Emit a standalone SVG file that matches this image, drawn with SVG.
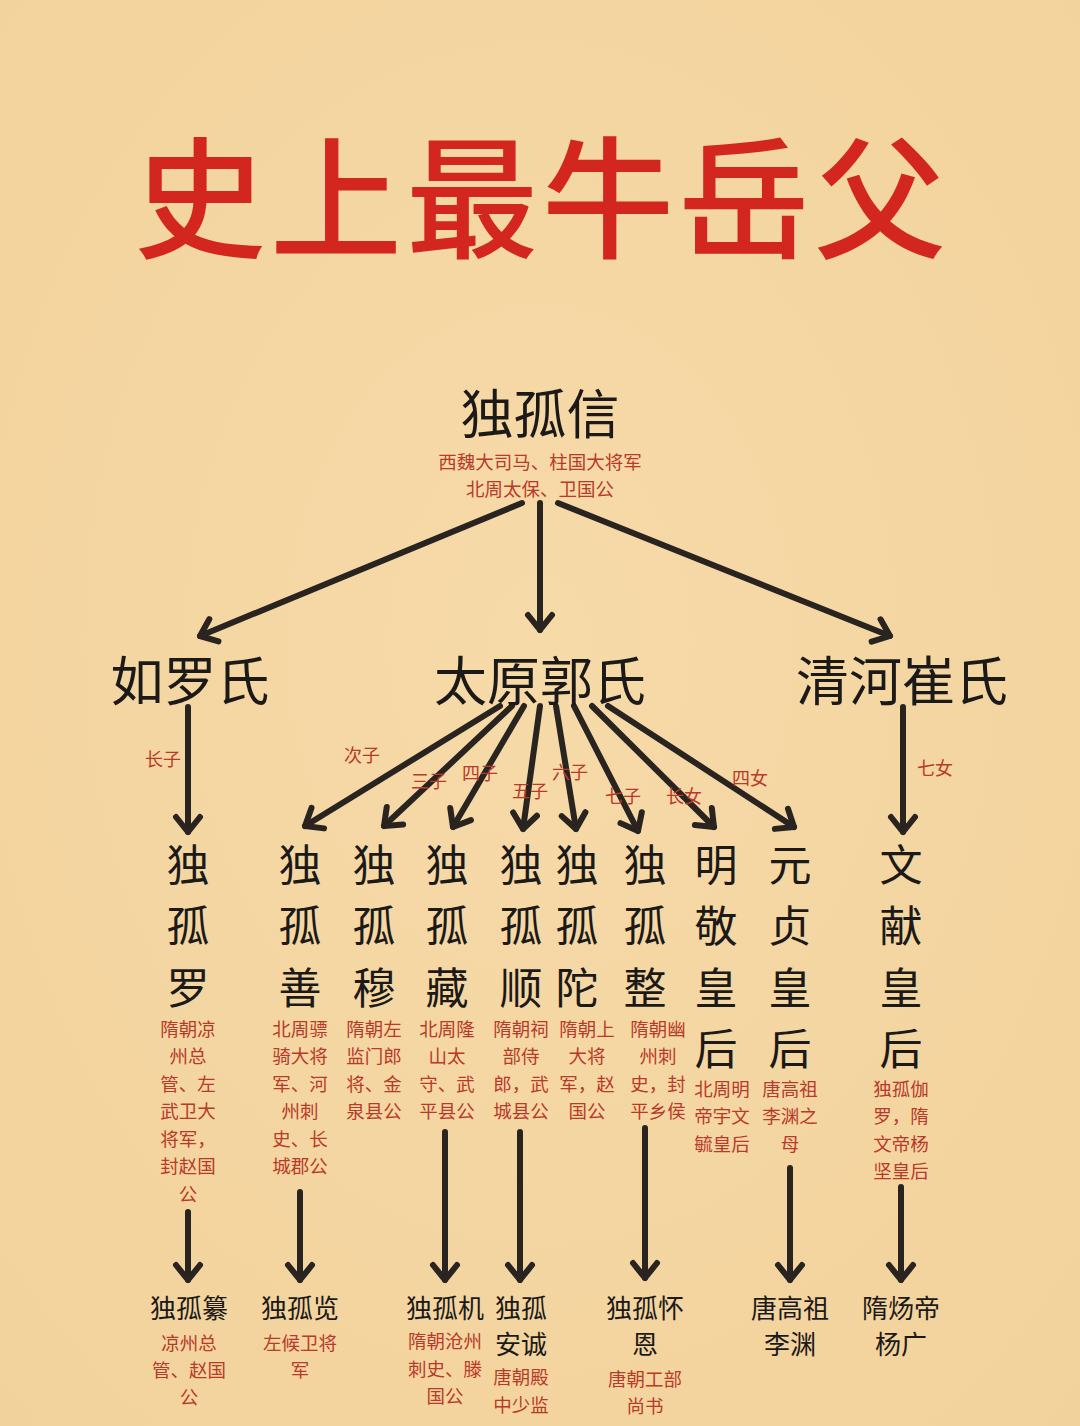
<svg xmlns="http://www.w3.org/2000/svg" width="1080" height="1426" viewBox="0 0 1080 1426">
<defs>
<style>
text{font-family:"Noto Sans CJK SC","Noto Sans",sans-serif;text-anchor:middle;dominant-baseline:central}
.title{font-size:132px;fill:#d3261e;font-weight:500;letter-spacing:4px}
.big{font-size:53px;fill:#1c1a18}
.col{font-size:43px;fill:#1c1a18}
.red{font-size:18.5px;fill:#b83a2a}
.lab{font-size:18px;fill:#b83a2a}
.bot{font-size:26px;fill:#1c1a18}
.ln{stroke:#2a2421;stroke-width:6;fill:none;stroke-linecap:round;marker-end:url(#ah)}
</style>
<marker id="ah" viewBox="-20 -16 24 32" refX="0" refY="0" markerWidth="24" markerHeight="32" markerUnits="userSpaceOnUse" orient="auto">
<path d="M-15,-12 L0,0 L-15,12" fill="none" stroke="#2a2421" stroke-width="6" stroke-linecap="round" stroke-linejoin="round"/>
</marker>
<radialGradient id="bg" cx="50%" cy="45%" r="75%">
<stop offset="0" stop-color="#f6daa8"/>
<stop offset="1" stop-color="#f2d29c"/>
</radialGradient>
</defs>
<rect width="1080" height="1426" fill="url(#bg)"/>
<text class="title" x="542" y="190">史上最牛岳父</text>

<g id="connectors">
<line class="ln" x1="522" y1="503" x2="200" y2="636"/>
<line class="ln" x1="540" y1="503" x2="540" y2="630"/>
<line class="ln" x1="558" y1="503" x2="890" y2="636"/>
<line class="ln" x1="188" y1="707" x2="188" y2="832"/>
<line class="ln" x1="903" y1="707" x2="903" y2="832"/>
<line class="ln" x1="500" y1="706" x2="305" y2="826"/>
<line class="ln" x1="512" y1="706" x2="384" y2="826"/>
<line class="ln" x1="524" y1="706" x2="453" y2="827"/>
<line class="ln" x1="540" y1="706" x2="523" y2="829"/>
<line class="ln" x1="556" y1="706" x2="576" y2="829"/>
<line class="ln" x1="574" y1="706" x2="638" y2="831"/>
<line class="ln" x1="592" y1="706" x2="714" y2="827"/>
<line class="ln" x1="608" y1="706" x2="794" y2="827"/>
<line class="ln" x1="188" y1="1212" x2="188" y2="1280"/>
<line class="ln" x1="300" y1="1192" x2="300" y2="1280"/>
<line class="ln" x1="445" y1="1132" x2="445" y2="1280"/>
<line class="ln" x1="520" y1="1132" x2="520" y2="1280"/>
<line class="ln" x1="645" y1="1128" x2="645" y2="1278"/>
<line class="ln" x1="790" y1="1168" x2="790" y2="1280"/>
<line class="ln" x1="901" y1="1187" x2="901" y2="1280"/>
<text class="lab" x="163" y="758">长子</text>
<text class="lab" x="362" y="754">次子</text>
<text class="lab" x="429" y="780">三子</text>
<text class="lab" x="480" y="772">四子</text>
<text class="lab" x="530" y="790">五子</text>
<text class="lab" x="570" y="771">六子</text>
<text class="lab" x="623" y="795">七子</text>
<text class="lab" x="684" y="795">长女</text>
<text class="lab" x="750" y="777">四女</text>
<text class="lab" x="935" y="767">七女</text>
</g>

<g id="n-duguxin">
<text class="big" x="540" y="411">独孤信</text>
<text class="red" x="540" y="461">西魏大司马、柱国大将军</text>
<text class="red" x="540" y="488">北周太保、卫国公</text>
</g>
<g id="n-ruluo"><text class="big" x="190" y="678">如罗氏</text></g>
<g id="n-guo"><text class="big" x="540" y="678">太原郭氏</text></g>
<g id="n-cui"><text class="big" x="902" y="678">清河崔氏</text></g>

<g id="n-luo">
<text class="col" x="188" y="862">独</text><text class="col" x="188" y="923">孤</text><text class="col" x="188" y="985">罗</text>
<text class="red" x="188" y="1028">隋朝凉</text><text class="red" x="188" y="1055">州总</text><text class="red" x="188" y="1083">管、左</text><text class="red" x="188" y="1110">武卫大</text><text class="red" x="188" y="1138">将军，</text><text class="red" x="188" y="1165">封赵国</text><text class="red" x="188" y="1193">公</text>
</g>
<g id="n-shan">
<text class="col" x="300" y="862">独</text><text class="col" x="300" y="923">孤</text><text class="col" x="300" y="985">善</text>
<text class="red" x="300" y="1028">北周骠</text><text class="red" x="300" y="1055">骑大将</text><text class="red" x="300" y="1083">军、河</text><text class="red" x="300" y="1110">州刺</text><text class="red" x="300" y="1138">史、长</text><text class="red" x="300" y="1165">城郡公</text>
</g>
<g id="n-mu">
<text class="col" x="374" y="862">独</text><text class="col" x="374" y="923">孤</text><text class="col" x="374" y="985">穆</text>
<text class="red" x="374" y="1028">隋朝左</text><text class="red" x="374" y="1055">监门郎</text><text class="red" x="374" y="1083">将、金</text><text class="red" x="374" y="1110">泉县公</text>
</g>
<g id="n-cang">
<text class="col" x="447" y="862">独</text><text class="col" x="447" y="923">孤</text><text class="col" x="447" y="985">藏</text>
<text class="red" x="447" y="1028">北周隆</text><text class="red" x="447" y="1055">山太</text><text class="red" x="447" y="1083">守、武</text><text class="red" x="447" y="1110">平县公</text>
</g>
<g id="n-shun">
<text class="col" x="521" y="862">独</text><text class="col" x="521" y="923">孤</text><text class="col" x="521" y="985">顺</text>
<text class="red" x="521" y="1028">隋朝祠</text><text class="red" x="521" y="1055">部侍</text><text class="red" x="521" y="1083">郎，武</text><text class="red" x="521" y="1110">城县公</text>
</g>
<g id="n-tuo">
<text class="col" x="577" y="862">独</text><text class="col" x="577" y="923">孤</text><text class="col" x="577" y="985">陀</text>
<text class="red" x="587" y="1028">隋朝上</text><text class="red" x="587" y="1055">大将</text><text class="red" x="587" y="1083">军，赵</text><text class="red" x="587" y="1110">国公</text>
</g>
<g id="n-zheng">
<text class="col" x="645" y="862">独</text><text class="col" x="645" y="923">孤</text><text class="col" x="645" y="985">整</text>
<text class="red" x="658" y="1028">隋朝幽</text><text class="red" x="658" y="1055">州刺</text><text class="red" x="658" y="1083">史，封</text><text class="red" x="658" y="1110">平乡侯</text>
</g>
<g id="n-mingjing">
<text class="col" x="716" y="862">明</text><text class="col" x="716" y="923">敬</text><text class="col" x="716" y="985">皇</text><text class="col" x="716" y="1046">后</text>
<text class="red" x="722" y="1088">北周明</text><text class="red" x="722" y="1115">帝宇文</text><text class="red" x="722" y="1143">毓皇后</text>
</g>
<g id="n-yuanzhen">
<text class="col" x="790" y="862">元</text><text class="col" x="790" y="923">贞</text><text class="col" x="790" y="985">皇</text><text class="col" x="790" y="1046">后</text>
<text class="red" x="790" y="1088">唐高祖</text><text class="red" x="790" y="1115">李渊之</text><text class="red" x="790" y="1143">母</text>
</g>
<g id="n-wenxian">
<text class="col" x="901" y="862">文</text><text class="col" x="901" y="923">献</text><text class="col" x="901" y="985">皇</text><text class="col" x="901" y="1046">后</text>
<text class="red" x="901" y="1088">独孤伽</text><text class="red" x="901" y="1115">罗，隋</text><text class="red" x="901" y="1143">文帝杨</text><text class="red" x="901" y="1170">坚皇后</text>
</g>

<g id="n-zuan">
<text class="bot" x="189" y="1306">独孤纂</text>
<text class="red" x="189" y="1342">凉州总</text><text class="red" x="189" y="1369">管、赵国</text><text class="red" x="189" y="1396">公</text>
</g>
<g id="n-lan">
<text class="bot" x="300" y="1306">独孤览</text>
<text class="red" x="300" y="1342">左候卫将</text><text class="red" x="300" y="1369">军</text>
</g>
<g id="n-ji">
<text class="bot" x="445" y="1306">独孤机</text>
<text class="red" x="445" y="1340">隋朝沧州</text><text class="red" x="445" y="1368">刺史、滕</text><text class="red" x="445" y="1395">国公</text>
</g>
<g id="n-ancheng">
<text class="bot" x="521" y="1306">独孤</text><text class="bot" x="521" y="1342">安诚</text>
<text class="red" x="521" y="1376">唐朝殿</text><text class="red" x="521" y="1404">中少监</text>
</g>
<g id="n-huaien">
<text class="bot" x="645" y="1306">独孤怀</text><text class="bot" x="645" y="1342">恩</text>
<text class="red" x="645" y="1378">唐朝工部</text><text class="red" x="645" y="1405">尚书</text>
</g>
<g id="n-liyuan">
<text class="bot" x="790" y="1306">唐高祖</text><text class="bot" x="790" y="1342">李渊</text>
</g>
<g id="n-yangguang">
<text class="bot" x="901" y="1306">隋炀帝</text><text class="bot" x="901" y="1342">杨广</text>
</g>
</svg>
